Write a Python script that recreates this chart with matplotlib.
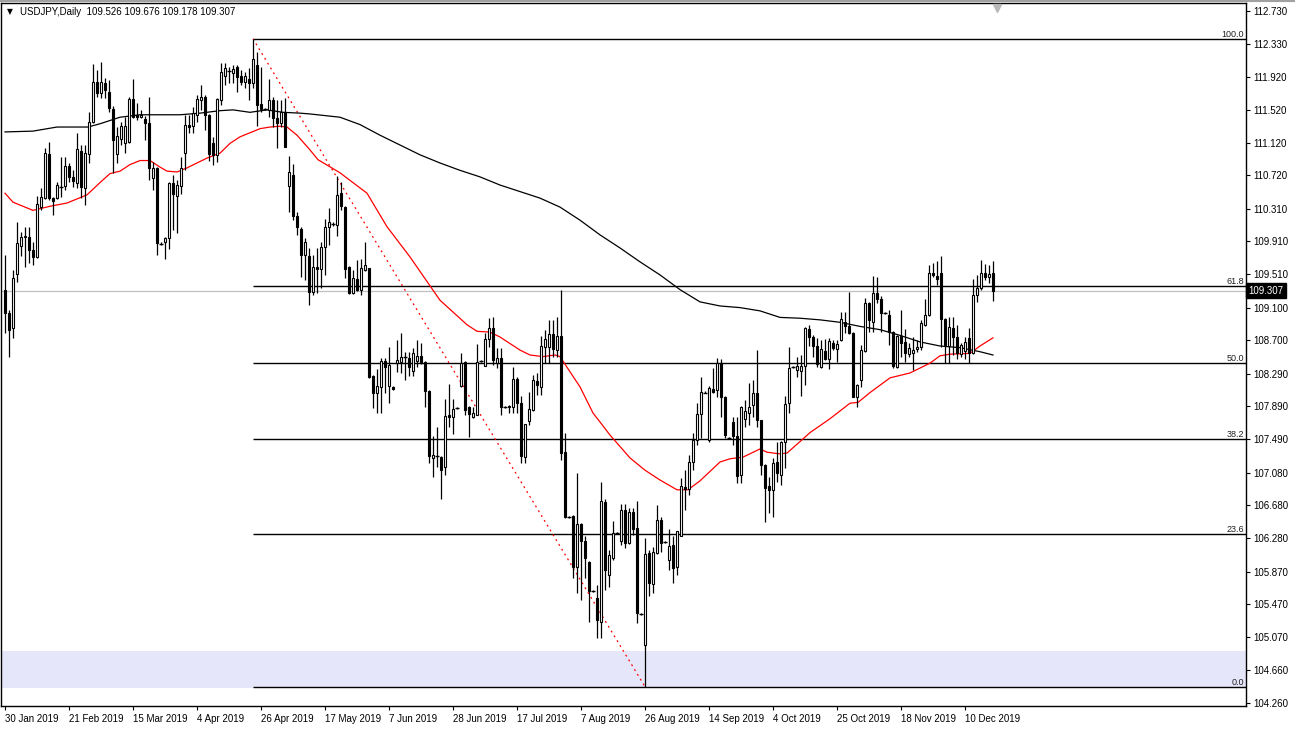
import matplotlib
matplotlib.use("Agg")
import matplotlib.pyplot as plt
import numpy as np

plt.rcParams['font.family'] = ['Liberation Sans', 'DejaVu Sans']

# ---------------- data (USDJPY daily candles) ----------------
opens = [
109.32,109.03,108.85,109.51,109.85,109.96,109.96,109.80,109.72,110.33,
110.44,110.98,110.44,110.44,110.59,110.59,110.83,110.70,110.63,111.02,
110.56,110.98,111.37,111.86,111.73,111.85,111.74,111.53,110.98,111.16,
111.11,111.13,111.65,111.46,111.43,111.41,111.36,110.69,110.81,109.89,
109.90,109.95,110.63,110.47,110.59,110.99,111.34,111.32,111.46,111.64,
111.68,111.46,111.11,110.97,111.64,111.93,112.01,111.97,112.05,111.93,
111.86,111.90,111.85,112.07,111.59,111.53,111.52,111.64,111.42,111.36,
111.50,110.59,110.72,110.22,110.06,109.74,109.73,109.29,109.60,109.57,
109.84,110.09,110.13,110.11,110.50,110.33,109.60,109.28,109.45,109.32,
109.56,109.58,108.26,108.06,108.13,108.45,108.14,108.13,108.42,108.44,
108.51,108.48,108.32,108.45,108.51,108.44,108.08,107.26,107.28,107.27,
107.15,107.78,107.76,107.87,108.14,108.44,107.88,107.76,107.79,108.45,
108.39,108.72,108.85,108.42,108.48,107.88,107.88,107.88,108.23,107.93,
107.27,107.71,107.85,108.20,108.13,108.62,108.62,108.78,108.58,108.75,
107.33,106.54,106.55,105.92,106.45,106.24,105.99,105.63,105.55,105.25,
106.72,105.83,106.04,106.34,106.24,106.62,106.22,106.60,106.40,105.35,
104.97,106.10,105.72,106.10,106.50,106.23,106.01,106.20,105.92,106.31,
106.91,106.88,107.21,107.48,107.80,108.07,107.48,108.10,108.09,108.42,
108.01,107.50,107.70,107.53,107.05,107.74,107.81,107.91,108.06,107.72,
107.17,106.92,106.87,107.21,107.05,107.46,107.93,108.37,108.34,108.32,
108.39,108.84,108.74,108.63,108.37,108.57,108.47,108.67,108.59,108.70,
108.92,108.87,108.79,108.01,108.21,108.57,109.16,108.92,109.28,109.20,
109.03,109.01,108.80,108.37,108.75,108.68,108.53,108.54,108.59,108.62,
108.89,109.01,109.52,109.49,109.52,108.96,108.63,108.85,108.74,108.53,
108.57,108.73,108.54,109.25,109.34,109.52,109.48,109.526]

highs = [
109.74,109.07,109.56,110.15,110.03,110.09,110.09,109.90,110.47,110.56,
111.05,111.13,110.45,110.64,110.94,110.94,110.87,110.79,111.24,111.09,
111.09,111.49,112.08,112.01,112.11,111.91,111.89,111.57,111.31,111.37,
111.43,111.68,111.90,111.60,111.52,111.45,111.68,110.88,110.82,109.90,
109.96,110.64,110.72,110.66,110.94,111.46,111.46,111.56,111.70,111.82,
111.70,111.47,111.19,111.67,112.09,112.09,112.05,112.07,112.07,112.01,
111.98,112.03,112.39,112.23,112.05,111.54,111.90,111.68,111.64,111.64,
111.67,110.96,110.86,110.27,110.09,109.95,109.83,109.74,109.83,109.90,
110.18,110.32,110.15,110.71,110.64,110.34,109.61,109.56,109.68,109.70,
109.90,109.59,108.27,108.35,108.48,108.48,108.62,108.14,108.70,108.79,
108.56,108.56,108.61,108.70,108.67,108.45,108.09,107.53,107.64,107.28,
107.98,108.17,107.98,107.88,108.54,108.45,107.89,107.88,108.66,108.46,
108.79,108.97,108.99,108.61,108.61,107.89,107.91,108.37,108.25,108.02,
107.68,108.07,108.27,108.30,108.75,108.83,108.95,108.95,108.99,109.32,
107.56,106.55,106.56,107.07,106.46,106.31,106.00,105.64,105.71,106.97,
106.76,106.13,106.49,106.35,106.70,106.70,106.65,106.65,106.73,105.36,
106.28,106.13,106.17,106.68,106.54,106.24,106.39,106.31,106.37,107.01,
107.11,107.30,107.56,107.93,108.25,108.08,108.14,108.36,108.48,108.47,
108.02,107.52,107.76,107.76,107.89,107.97,108.18,108.21,108.58,107.73,
107.18,107.03,107.26,107.45,107.47,108.02,108.62,108.38,108.50,108.52,
108.86,108.89,108.76,108.73,108.70,108.72,108.73,108.70,108.70,109.05,
109.05,109.29,108.80,108.16,108.64,109.22,109.17,109.49,109.47,109.24,
109.05,109.07,108.81,108.76,109.07,108.84,108.67,108.74,108.70,108.95,
109.21,109.62,109.65,109.67,109.73,108.97,108.98,108.99,108.89,108.67,
108.74,108.85,109.45,109.50,109.68,109.63,109.62,109.676]

lows = [
108.79,108.50,108.73,109.41,109.73,109.60,109.65,109.62,109.71,110.29,
110.43,110.42,110.23,110.43,110.45,110.54,110.64,110.58,110.56,110.44,
110.36,110.87,111.36,111.68,111.67,111.67,111.50,110.75,110.87,111.09,
110.99,111.11,111.42,111.40,111.42,111.15,110.66,110.54,109.74,109.87,
109.70,109.82,110.05,110.01,110.49,110.78,111.24,111.24,111.37,111.52,
111.27,110.90,110.85,110.88,111.58,111.82,111.85,111.85,111.74,111.82,
111.79,111.64,111.79,111.32,111.50,111.52,111.43,111.31,111.05,111.31,
111.06,110.27,110.17,109.99,109.47,109.44,109.13,109.25,109.28,109.34,
109.50,109.87,110.10,109.98,110.29,109.46,109.27,109.27,109.30,109.25,
109.55,108.24,107.87,107.81,107.81,108.06,107.93,108.09,108.31,108.30,
108.21,108.26,108.26,108.37,108.41,107.88,107.20,107.03,107.15,106.76,
107.05,107.64,107.55,107.86,108.13,107.79,107.52,107.75,107.78,108.43,
108.38,108.62,108.40,108.36,107.79,107.87,107.81,107.81,107.81,107.20,
107.20,107.66,107.84,108.03,108.03,108.42,108.42,108.50,108.50,107.23,
106.53,106.52,105.79,105.61,105.52,105.79,105.25,105.62,105.06,105.06,
105.64,105.68,106.01,106.33,106.20,106.16,106.21,106.32,105.24,105.34,
104.46,105.57,105.61,106.09,106.11,106.22,105.89,105.73,105.83,106.30,
106.62,106.81,107.11,107.42,107.50,108.05,107.46,108.06,108.01,107.76,
107.50,107.49,107.42,106.95,106.95,107.64,107.66,107.76,107.64,107.05,
106.48,106.59,106.54,106.97,106.93,107.14,107.81,108.36,108.25,108.02,
108.15,108.63,108.50,108.37,108.36,108.46,108.35,108.58,108.44,108.69,
108.79,108.78,108.00,107.88,108.13,108.56,108.80,108.80,109.16,108.80,
109.02,108.64,108.36,108.36,108.50,108.43,108.50,108.34,108.56,108.58,
108.87,109.00,109.47,109.38,108.62,108.42,108.42,108.52,108.47,108.50,
108.47,108.42,108.53,109.17,109.31,109.44,109.40,109.178]

closes = [
109.03,108.83,109.46,109.89,109.96,109.98,109.80,109.72,110.37,110.45,
110.99,110.44,110.40,110.60,110.58,110.83,110.70,110.65,111.04,110.58,
110.99,111.37,111.86,111.73,111.86,111.76,111.54,111.15,111.20,111.32,
111.32,111.65,111.43,111.43,111.46,111.36,110.81,110.81,109.89,109.88,
109.95,110.63,110.49,110.60,110.81,111.34,111.31,111.48,111.65,111.68,
111.46,110.98,110.97,111.65,111.98,112.03,112.00,112.02,111.92,111.86,
111.93,111.85,112.14,111.58,111.53,111.53,111.64,111.42,111.36,111.50,
111.07,110.76,110.22,110.09,109.74,109.90,109.29,109.60,109.57,109.84,
110.09,110.15,110.12,110.48,110.34,109.57,109.28,109.46,109.32,109.59,
109.62,108.25,108.06,108.14,108.45,108.37,108.40,108.10,108.46,108.50,
108.50,108.37,108.54,108.51,108.42,108.08,107.28,107.30,107.28,107.11,
107.77,107.76,107.86,107.87,108.42,107.85,107.80,107.81,108.44,108.45,
108.72,108.85,108.46,108.48,107.88,107.88,107.90,108.23,107.93,107.28,
107.67,107.86,108.21,108.15,108.63,108.72,108.78,108.59,108.75,107.32,
106.54,106.54,105.92,106.45,106.24,106.04,105.63,105.63,105.28,106.73,
105.89,106.07,106.34,106.34,106.62,106.22,106.60,106.39,105.36,105.35,
106.09,105.73,106.11,106.50,106.22,106.23,106.18,105.91,106.36,106.92,
106.88,107.21,107.48,107.80,108.07,108.06,108.12,108.07,108.42,108.01,
107.54,107.50,107.53,107.04,107.88,107.83,107.88,108.06,107.72,107.17,
106.89,106.87,107.20,107.08,107.46,107.92,108.36,108.37,108.39,108.39,
108.85,108.74,108.63,108.41,108.59,108.47,108.69,108.61,108.65,108.96,
108.87,108.79,108.01,108.15,108.58,109.16,108.95,109.28,109.20,109.03,
109.03,108.80,108.39,108.75,108.67,108.54,108.61,108.58,108.62,108.91,
109.01,109.52,109.50,109.45,108.96,108.64,108.86,108.74,108.54,108.64,
108.68,108.54,109.25,109.34,109.52,109.48,109.51,109.307]

# moving averages (bar index, price)
ma_red_idx = [0, 2, 7, 11.25, 15.5, 20.5, 23.75, 26.25, 28.75, 31.25, 33.75, 36.25, 38.75, 40.5, 43,
              45.5, 48, 50.5, 53.75, 56.25, 58.75, 61.25, 63.75, 66.25, 68.75, 70.5, 73, 76.25, 78.25,
              83.75, 90.5, 95.5, 101.25, 108.75, 115.5, 118, 121.25, 123.75, 128.75, 131.25, 134.5,
              137.5, 138.75, 140.5, 143.75, 147, 148.75, 151.25, 156.25, 160, 163.75, 168, 170.75,
              173.75, 178.75, 181.25, 184.5, 188.75, 190.5, 193.75, 195.5, 198.75, 201.25, 206.25,
              211.25, 213.25, 216.25, 218.75, 221.25, 226.25, 231.25, 233.75, 236.25, 241.25, 243.75, 247]
ma_red_val = [110.50, 110.39, 110.29, 110.34, 110.38, 110.48, 110.63, 110.74, 110.77, 110.85, 110.90,
              110.90, 110.82, 110.77, 110.76, 110.81, 110.87, 110.93, 110.99, 111.11, 111.19, 111.24,
              111.29, 111.31, 111.32, 111.31, 111.21, 111.03, 110.91, 110.75, 110.50, 110.09, 109.72,
              109.19, 108.89, 108.81, 108.80, 108.74, 108.58, 108.52, 108.50, 108.52, 108.50, 108.37,
              108.13, 107.81, 107.70, 107.54, 107.26, 107.11, 106.99, 106.87, 106.87, 106.98, 107.21,
              107.25, 107.27, 107.37, 107.33, 107.31, 107.32, 107.46, 107.57, 107.74, 107.93, 107.94,
              108.06, 108.15, 108.24, 108.30, 108.42, 108.51, 108.53, 108.54, 108.63, 108.73]

ma_black_idx = [0, 7, 13, 20.75, 23.75, 28.75, 33.75, 43.75, 48.75, 53.75, 57, 61.25, 65.5, 69.5, 73.75,
                76.25, 83.75, 88.75, 93.75, 98.75, 103.75, 108.75, 113.75, 118.75, 123.75, 128.75,
                133.75, 138.75, 143.75, 148.75, 153.75, 158.75, 163.75, 168.75, 173.75, 178.75, 183.75,
                188.75, 193.75, 198.75, 203.75, 208.75, 213.75, 218.75, 223.75, 228.75, 233.75, 238.75,
                243.75, 247]
ma_black_val = [111.25, 111.26, 111.31, 111.31, 111.35, 111.43, 111.46, 111.46, 111.48, 111.51, 111.52,
                111.49, 111.52, 111.49, 111.48, 111.47, 111.43, 111.34, 111.21, 111.09, 110.97, 110.87,
                110.78, 110.70, 110.60, 110.52, 110.44, 110.33, 110.17, 109.99, 109.83, 109.66, 109.50,
                109.32, 109.17, 109.12, 109.10, 109.06, 108.98, 108.97, 108.95, 108.92, 108.87, 108.83,
                108.76, 108.68, 108.63, 108.61, 108.56, 108.52]

# Fibonacci retracement (high bar 62 -> low bar 160)
fib_high = 112.39
fib_low = 104.46
fib_start_idx = 62
fib_end_idx = 160
fib_levels = [0.0, 23.6, 38.2, 50.0, 61.8, 100.0]

zone_low, zone_high = 104.44, 104.90
last_price = 109.307

y_ticks = [112.730, 112.330, 111.920, 111.520, 111.120, 110.720, 110.310, 109.910, 109.510, 109.100,
           108.700, 108.290, 107.890, 107.490, 107.080, 106.680, 106.280, 105.870, 105.470, 105.070,
           104.660, 104.260]
date_idx = [0, 16, 32, 48, 64, 80, 96, 112, 128, 144, 160, 176, 192, 208, 224, 240]
date_labels = ["30 Jan 2019", "21 Feb 2019", "15 Mar 2019", "4 Apr 2019", "26 Apr 2019", "17 May 2019",
               "7 Jun 2019", "28 Jun 2019", "17 Jul 2019", "7 Aug 2019", "26 Aug 2019", "14 Sep 2019",
               "4 Oct 2019", "25 Oct 2019", "18 Nov 2019", "10 Dec 2019"]
title = "USDJPY,Daily  109.526 109.676 109.178 109.307"

# ---------------- figure ----------------
W, H = 1295, 729
fig = plt.figure(figsize=(W / 100, H / 100), dpi=100)
ax_l, ax_r, ax_t, ax_b = 1, 1246, 3, 706
ax = fig.add_axes([ax_l / W, 1 - ax_b / H, (ax_r - ax_l) / W, (ax_b - ax_t) / H])
ax.set_xlim(-1, 310.25)
ax.set_ylim(104.224, 112.828)

# lavender zone
ax.axhspan(zone_low, zone_high, color='#E6E6FA', zorder=0, lw=0)

# bid line
ax.axhline(last_price, color='#C0C0C0', lw=0.9, zorder=1)

# fibonacci
rng = fib_high - fib_low
for lv in fib_levels:
    p = fib_low + rng * lv / 100.0
    ax.hlines(p, fib_start_idx, 310.25, color='black', lw=1.0, zorder=2)
    ax.text(0.9985, p, f"{lv:.1f}", transform=ax.get_yaxis_transform(), ha='right', va='bottom',
            fontsize=6.5, color='#202020', zorder=5)
ax.plot([fib_start_idx, fib_end_idx], [fib_high, fib_low], color='red', lw=0.9,
        ls=(0, (1.5, 3)), zorder=2)

# moving averages
ax.plot(ma_black_idx, ma_black_val, color='black', lw=0.9, zorder=3)
ax.plot(ma_red_idx, ma_red_val, color='red', lw=0.9, zorder=3)

# candles
idx = np.arange(len(closes))
o = np.array(opens); h = np.array(highs); l = np.array(lows); c = np.array(closes)
ax.vlines(idx, l, h, color='black', lw=0.9, zorder=4)
body_w = 0.55
for i in idx:
    lo, hi = min(o[i], c[i]), max(o[i], c[i])
    if hi - lo < 0.015:
        ax.hlines(c[i], i - 0.4, i + 0.4, color='black', lw=1.0, zorder=5)
        continue
    bull = c[i] > o[i]
    ax.bar(i, hi - lo, bottom=lo, width=body_w, color='white' if bull else 'black',
           edgecolor='black', linewidth=0.8, zorder=5)

# axes styling
for s in ax.spines.values():
    s.set_color('black'); s.set_linewidth(1.0)
ax.yaxis.tick_right()
ax.set_yticks(y_ticks)
ax.set_yticklabels([f"{t:.3f}" for t in y_ticks])
ax.set_xticks(date_idx)
ax.set_xticklabels(date_labels, ha='left')
ax.tick_params(axis='both', labelsize=7, length=3, width=0.8, color='black', pad=2, direction='out')
ax.tick_params(axis='x', pad=3)

# current price box
ax.text(1.002, last_price, f"{last_price:.3f}", transform=ax.get_yaxis_transform(), ha='left',
        va='center', fontsize=7, color='white',
        bbox=dict(boxstyle='square,pad=0.25', fc='black', ec='black'), zorder=10, clip_on=False)

# title
fig.text(7 / W, 1 - 12 / H, "\u25BC", fontsize=5.5, va='center', ha='left', color='black',
         family='DejaVu Sans')
fig.text(20 / W, 1 - 12 / H, title, fontsize=7, va='center', ha='left', color='black')

# chart shift marker
ax.plot([248], [112.77], marker='v', color='#B8B8B8', ms=6, zorder=6, clip_on=False)

# window borders
fig.add_artist(plt.Line2D([0, 1], [1 - 0.5 / H, 1 - 0.5 / H], color='#A0A0A0', lw=1.5))

fig.savefig("out.png", dpi=100)
